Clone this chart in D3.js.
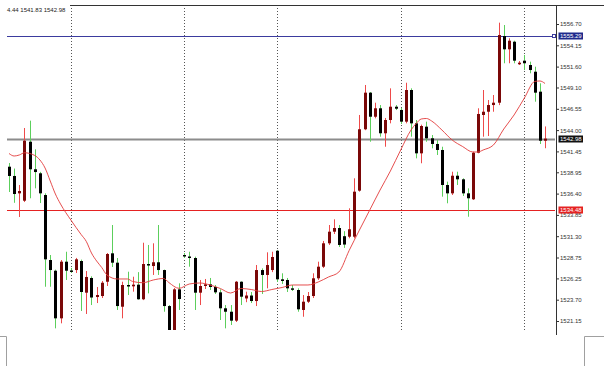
<!DOCTYPE html>
<html>
<head>
<meta charset="utf-8">
<script src="https://cdn.jsdelivr.net/npm/d3@7"></script>
<style>
  body { margin: 0; background: #fff; }
  svg { display: block; font-family: "Liberation Sans", Arial, sans-serif; }
</style>
</head>
<body>
<script>
// candle data, one entry per bar (oldest first)
var opens = [1539.62, 1538.51, 1536.43, 1535.55, 1542.61, 1539.31, 1538.83, 1536.23, 1528.45, 1527.17,
  1521.47, 1528.25, 1527.20, 1527.25, 1528.33, 1524.54, 1526.30, 1524.02, 1524.14, 1525.85,
  1529.25, 1528.13, 1522.86, 1525.46, 1525.30, 1525.50, 1523.75, 1527.97, 1527.73, 1528.18,
  1527.25, 1522.94, 1519.80, 1524.94, 1529.05, 1528.87, 1528.69, 1524.54, 1525.34, 1525.54,
  1525.22, 1524.58, 1522.67, 1522.26, 1521.19, 1525.85, 1523.85, 1524.20, 1523.54, 1527.25,
  1526.66, 1527.25, 1529.56, 1526.14, 1526.06, 1525.06, 1524.86, 1522.47, 1523.46, 1524.14,
  1526.26, 1527.65, 1530.45, 1531.84, 1532.28, 1531.30, 1531.24, 1531.24, 1536.75, 1544.10,
  1548.48, 1545.60, 1546.61, 1543.62, 1545.21, 1546.80, 1546.41, 1545.01, 1548.80, 1544.81,
  1541.22, 1544.41, 1543.02, 1542.34, 1541.62, 1537.43, 1536.43, 1538.54, 1538.11, 1536.43,
  1535.72, 1541.29, 1545.81, 1546.20, 1547.00, 1547.28, 1555.26, 1553.67, 1554.58, 1551.88,
  1552.31, 1551.79, 1550.99, 1548.60, 1542.73];
var highs = [1540.06, 1539.40, 1537.43, 1544.25, 1545.13, 1541.70, 1539.00, 1536.43, 1529.05, 1527.30,
  1528.45, 1529.44, 1527.50, 1528.70, 1528.50, 1527.13, 1526.50, 1525.22, 1525.94, 1529.29,
  1532.64, 1528.69, 1525.85, 1527.05, 1526.45, 1527.00, 1530.52, 1530.25, 1530.45, 1532.64,
  1527.30, 1523.06, 1525.10, 1525.66, 1529.29, 1529.44, 1528.85, 1526.06, 1526.18, 1526.30,
  1525.46, 1524.94, 1523.06, 1523.06, 1525.94, 1525.90, 1524.66, 1524.62, 1527.85, 1527.45,
  1529.37, 1529.44, 1529.65, 1526.86, 1526.30, 1525.46, 1525.06, 1524.26, 1524.62, 1526.86,
  1528.25, 1530.73, 1532.64, 1533.32, 1532.64, 1531.90, 1534.64, 1538.23, 1545.81, 1549.40,
  1548.56, 1547.28, 1547.00, 1545.45, 1549.00, 1547.00, 1546.64, 1549.67, 1549.00, 1545.21,
  1544.65, 1545.01, 1543.41, 1542.81, 1542.01, 1537.83, 1539.02, 1539.02, 1538.23, 1537.03,
  1541.41, 1546.61, 1548.80, 1547.60, 1548.20, 1556.86, 1556.58, 1554.99, 1554.70, 1552.27,
  1552.99, 1552.19, 1551.59, 1549.60, 1544.44];
var lows = [1536.59, 1535.30, 1533.60, 1535.39, 1535.84, 1537.03, 1535.27, 1525.25, 1525.25, 1520.27,
  1520.87, 1526.06, 1526.90, 1526.89, 1522.35, 1521.99, 1523.06, 1523.30, 1523.90, 1525.34,
  1527.61, 1522.47, 1521.47, 1524.26, 1524.66, 1523.70, 1523.65, 1524.46, 1526.66, 1526.66,
  1522.26, 1519.30, 1519.30, 1522.47, 1528.69, 1527.65, 1522.47, 1523.06, 1524.98, 1524.86,
  1524.38, 1521.27, 1520.27, 1520.67, 1521.03, 1523.06, 1523.40, 1523.30, 1522.94, 1524.38,
  1525.06, 1527.00, 1525.82, 1525.58, 1524.62, 1524.74, 1522.26, 1521.66, 1523.30, 1523.90,
  1526.06, 1527.49, 1530.25, 1531.56, 1530.01, 1529.90, 1531.05, 1531.05, 1536.63, 1543.99,
  1542.61, 1545.41, 1543.21, 1542.01, 1544.81, 1546.40, 1544.73, 1544.81, 1543.21, 1540.62,
  1540.03, 1542.61, 1541.82, 1541.02, 1536.03, 1535.24, 1536.23, 1537.43, 1536.11, 1533.63,
  1535.63, 1541.22, 1543.21, 1543.29, 1546.20, 1546.99, 1552.00, 1552.00, 1552.00, 1551.79,
  1551.19, 1550.80, 1547.40, 1542.34, 1541.83];
var closes = [1538.51, 1536.35, 1536.71, 1542.73, 1539.31, 1538.98, 1536.43, 1528.53, 1527.25, 1521.47,
  1528.25, 1527.17, 1527.10, 1528.53, 1524.62, 1526.42, 1523.96, 1524.26, 1525.73, 1529.17,
  1528.13, 1522.94, 1525.46, 1525.30, 1525.50, 1523.75, 1527.97, 1527.82, 1528.18, 1527.25,
  1522.94, 1519.80, 1524.94, 1523.78, 1528.87, 1528.69, 1524.54, 1525.34, 1525.54, 1525.22,
  1524.58, 1522.67, 1522.26, 1521.19, 1525.85, 1524.06, 1524.20, 1523.54, 1527.25, 1526.66,
  1527.85, 1528.81, 1526.14, 1525.94, 1525.06, 1524.98, 1522.55, 1523.46, 1524.14, 1526.26,
  1527.65, 1530.45, 1531.84, 1532.28, 1530.25, 1530.30, 1532.13, 1536.63, 1544.10, 1548.48,
  1545.60, 1546.61, 1543.62, 1545.21, 1546.80, 1546.56, 1545.01, 1548.80, 1544.81, 1541.22,
  1544.49, 1543.02, 1542.34, 1541.62, 1537.43, 1536.43, 1538.54, 1538.11, 1536.43, 1535.84,
  1541.29, 1545.93, 1546.20, 1547.00, 1547.28, 1555.38, 1553.67, 1554.70, 1552.31, 1552.07,
  1552.00, 1551.19, 1548.48, 1542.73, 1542.98];

// moving average line, read at some bars
var maIndex = [0, 1, 2, 3, 5, 6, 7, 8, 9, 10, 12, 14, 15, 16, 17, 18, 19, 21, 23, 24, 26, 28, 30, 31, 33, 35,
  37, 39, 41, 43, 45, 47, 49, 51, 53, 55, 58, 60, 62, 64, 66, 68, 70, 72, 74, 76, 78, 79, 80, 81, 82, 84,
  86, 88, 90, 91, 92, 94, 96, 98, 100, 102, 103, 104];
var maValues = [1541.20, 1540.90, 1541.02, 1541.29, 1540.96, 1540.42, 1539.46, 1537.91, 1536.35, 1535.15,
  1533.24, 1531.50, 1530.67, 1529.29, 1528.33, 1527.55, 1526.66, 1526.18, 1526.18, 1525.88, 1525.73,
  1526.06, 1526.24, 1525.76, 1525.06, 1525.58, 1525.70, 1525.46, 1525.04, 1524.50, 1525.04, 1524.92,
  1524.68, 1524.92, 1525.16, 1525.46, 1525.46, 1525.82, 1526.42, 1527.01, 1529.59, 1532.04, 1534.44,
  1536.83, 1539.10, 1541.62, 1544.01, 1544.79, 1545.33, 1545.39, 1545.09, 1544.01, 1542.81, 1542.04,
  1541.38, 1541.38, 1541.62, 1542.22, 1544.13, 1545.81, 1547.84, 1549.82, 1549.88, 1549.58];

// period separators (bar index)
var separators = [12, 34, 52, 76, 100];

// price axis
var priceTicks = [1556.70, 1554.15, 1551.60, 1549.10, 1546.55, 1544.00, 1541.45, 1538.95, 1536.40,
  1533.85, 1531.30, 1528.75, 1526.25, 1523.70, 1521.15];

// horizontal levels: blue line, bid line, red line
var levelPrices = [1555.29, 1542.98, 1534.48];

var headerText = "4.44 1541.83 1542.98";

var width = 604, height = 379;
var lineColors = ["#3b3b9e", "#8c8c8c", "#e52222"];
var boxColors = ["#1f2a8c", "#111111", "#e52222"];

var svg = d3.select("body").append("svg")
    .attr("width", width)
    .attr("height", height);

var x = d3.scaleLinear().domain([0, closes.length - 1]).range([9, 545]);
var y = d3.scaleLinear().domain([1521.15, 1556.70]).range([321, 24]);

// clip for the chart area
svg.append("clipPath").attr("id", "plot")
  .append("rect").attr("x", 7).attr("y", 5).attr("width", 549).attr("height", 325);

// window border bits
svg.append("line")
    .attr("x1", 70).attr("x2", width).attr("y1", 5.5).attr("y2", 5.5)
    .attr("stroke", "#333").attr("stroke-width", 1);
svg.append("path")
    .attr("d", "M0,336.5H6.5V366")
    .attr("fill", "none").attr("stroke", "#a0a0a0");
svg.append("path")
    .attr("d", "M604,336.5H584.5V366")
    .attr("fill", "none").attr("stroke", "#a0a0a0");

var plot = svg.append("g").attr("clip-path", "url(#plot)");

// dotted separators
plot.selectAll(".sep")
    .data(separators)
    .enter().append("line")
    .attr("class", "sep")
    .attr("x1", function (d) { return Math.round(x(d)) + 0.5; })
    .attr("x2", function (d) { return Math.round(x(d)) + 0.5; })
    .attr("y1", 8).attr("y2", 330)
    .attr("stroke", "#555").attr("stroke-dasharray", "1,2");

// level lines
plot.selectAll(".level")
    .data(levelPrices)
    .enter().append("line")
    .attr("class", "level")
    .attr("x1", 7).attr("x2", 555)
    .attr("y1", function (d) { return Math.round(y(d)) + 0.5; })
    .attr("y2", function (d) { return Math.round(y(d)) + 0.5; })
    .attr("stroke", function (d, i) { return lineColors[i]; })
    .attr("stroke-width", function (d, i) { return i == 1 ? 2 : 1; });

// small square at the end of the blue line
svg.append("rect")
    .attr("x", 552.5).attr("y", Math.round(y(levelPrices[0])) - 1.5)
    .attr("width", 3).attr("height", 3)
    .attr("fill", "#fff").attr("stroke", lineColors[0]);

var bars = d3.range(closes.length);

// wicks
plot.selectAll(".wick")
    .data(bars)
    .enter().append("line")
    .attr("class", "wick")
    .attr("x1", function (i) { return Math.round(x(i)) + 0.5; })
    .attr("x2", function (i) { return Math.round(x(i)) + 0.5; })
    .attr("y1", function (i) { return y(highs[i]); })
    .attr("y2", function (i) { return y(lows[i]); })
    .attr("stroke", function (i) { return closes[i] >= opens[i] ? "#ee4a4a" : "#5ccf5c"; });

// bodies
plot.selectAll(".body")
    .data(bars)
    .enter().append("rect")
    .attr("class", "body")
    .attr("x", function (i) { return Math.round(x(i)) - 1; })
    .attr("width", 3)
    .attr("y", function (i) { return y(Math.max(opens[i], closes[i])); })
    .attr("height", function (i) { return Math.max(1.5, Math.abs(y(opens[i]) - y(closes[i]))); })
    .attr("fill", function (i) { return closes[i] >= opens[i] ? "#7a0808" : "#000"; });

// moving average
var maLine = d3.line()
    .x(function (d) { return x(d); })
    .y(function (d, k) { return y(maValues[k]); })
    .curve(d3.curveMonotoneX);

plot.append("path")
    .datum(maIndex)
    .attr("d", maLine)
    .attr("fill", "none")
    .attr("stroke", "#e23a3a")
    .attr("stroke-width", 0.9);

// price axis
var axisG = svg.append("g").attr("transform", "translate(556,0)");
axisG.append("line")
    .attr("x1", 0.5).attr("x2", 0.5).attr("y1", 5).attr("y2", 335)
    .attr("stroke", "#333");
axisG.call(d3.axisRight(y).tickValues(priceTicks).tickSize(3).tickPadding(1)
    .tickFormat(d3.format(".2f")));
axisG.select(".domain").remove();
axisG.selectAll(".tick line").attr("stroke", "#333");
axisG.selectAll(".tick text")
    .attr("fill", "#333")
    .style("font-size", "6px")
    .style("font-family", "'Liberation Sans', Arial, sans-serif");

// level labels on the axis
var tags = svg.selectAll(".tag")
    .data(levelPrices)
    .enter().append("g")
    .attr("class", "tag")
    .attr("transform", function (d) { return "translate(558.5," + Math.round(y(d)) + ")"; });
tags.append("rect")
    .attr("x", 0).attr("y", -3.5).attr("width", 24.5).attr("height", 7)
    .attr("fill", function (d, i) { return boxColors[i]; });
tags.append("text")
    .attr("x", 1.5).attr("y", 2.2)
    .attr("fill", "#fff")
    .style("font-size", "6px")
    .text(function (d) { return d.toFixed(2); });

// header text
svg.append("text")
    .attr("x", 7).attr("y", 12)
    .attr("fill", "#222")
    .style("font-size", "6px")
    .text(headerText);
</script>
</body>
</html>
